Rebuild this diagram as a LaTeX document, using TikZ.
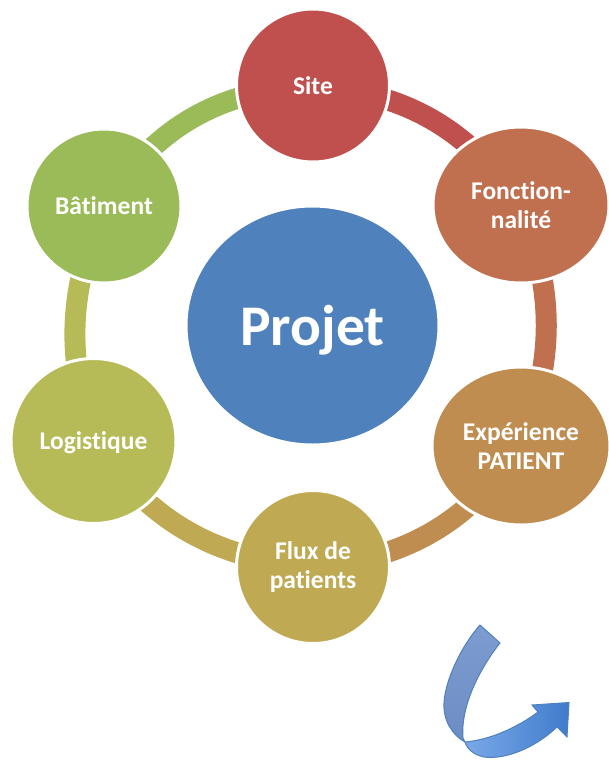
\documentclass[tikz,border=0pt]{standalone}
\usepackage{fontspec}
\setmainfont{Carlito}[Ligatures=NoCommon]
\usetikzlibrary{shapes.geometric, backgrounds}

\definecolor{sitecol}{HTML}{C0504D}
\definecolor{foncol}{HTML}{C0704F}
\definecolor{expcol}{HTML}{C08D50}
\definecolor{fluxcol}{HTML}{BFAA53}
\definecolor{logcol}{HTML}{B6BB57}
\definecolor{batcol}{HTML}{9BBB59}
\definecolor{projcol}{HTML}{4F81BD}
\definecolor{arrowline}{HTML}{4F81BD}
\definecolor{tailtop}{RGB}{125,157,208}
\definecolor{tailbot}{RGB}{108,140,196}
\definecolor{headleft}{RGB}{122,168,232}
\definecolor{headright}{RGB}{64,124,204}

\begin{document}
\begin{tikzpicture}[
    x=1pt, y=-1pt,
    item/.style={ellipse, draw=white, line width=3pt, inner sep=0pt, align=center,
                 text=white, font=\bfseries\fontsize{25.5}{29}\selectfont},
    link/.style={line width=21pt}
]
   \useasboundingbox (0,0) rectangle (609,761);

   % Circles with colors
   \node[item, fill=projcol, minimum width=253pt, minimum height=239pt, text depth=0pt,
         font=\bfseries\fontsize{57.5}{60}\selectfont] (projet) at (312.5,325.5) {Projet};
   \node[item, fill=sitecol, minimum width=153pt, minimum height=153pt] (site) at (313,85.5) {Site};
   \node[item, fill=foncol, minimum width=176pt, minimum height=156pt] (fonc) at (521,205) {Fonction-\\nalité};
   \node[item, fill=expcol, minimum width=178pt, minimum height=158pt] (exper) at (521,446) {Expérience\\PATIENT};
   \node[item, fill=fluxcol, minimum width=153pt, minimum height=153pt] (flux) at (313,567) {Flux de\\patients};
   \node[item, fill=logcol, minimum width=165pt, minimum height=165pt, text depth=0pt] (logist) at (93.5,441) {Logistique};
   \node[item, fill=batcol, minimum width=154pt, minimum height=154pt] (batim) at (104,206) {Bâtiment};

   % Ring
   \begin{scope}[on background layer]
   \draw[link, sitecol] (site.center) to[bend left=25] (fonc.center);
   \draw[link, foncol] (fonc.center) to[bend left=21] (exper.center);
   \draw[link, expcol] (exper.center) to[bend left=25] (flux.center);
   \draw[link, fluxcol] (flux.center) to[bend left=25] (logist.center);
   \draw[link, logcol] (logist.center) to[bend left=20] (batim.center);
   \draw[link, batcol] (batim.center) to[bend left=27] (site.center);
   \end{scope}

   % Curved arrow
   \path[draw=arrowline, line width=1pt, top color=tailtop, bottom color=tailbot]
   (480,625) -- (500,643) .. controls (484,663) and (460,703) .. (463,738)
   -- (465,742) .. controls (452,735) and (443,720) .. (444,703)
   .. controls (445,680) and (462,645) .. (480,625) -- cycle;
   \path[draw=arrowline, line width=1pt, left color=headleft, right color=headright]
   (465,742) .. controls (490,740) and (518,727) .. (538,712)
   -- (532,705) -- (569,702.5) -- (567,737) -- (557,727)
   .. controls (535,748) and (505,760) .. (484,757)
   .. controls (474,755) and (467,749) .. (465,742) -- cycle;
\end{tikzpicture}
\end{document}
